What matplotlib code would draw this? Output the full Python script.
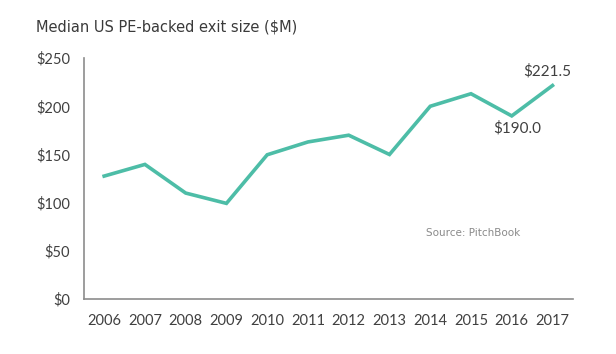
import matplotlib.pyplot as plt

# data
years = ['2006', '2007', '2008', '2009', '2010', '2011',
         '2012', '2013', '2014', '2015', '2016', '2017']
exit_size = [127.6, 139.7, 110.0, 99.3, 149.7, 163.0,
             170.0, 150.0, 200.0, 213.0, 190.0, 221.5]
y_ticks = [0, 50, 100, 150, 200, 250]

line_col = '#4dbda7'
txt_col = '#404040'
lbl_font = 'Lato'

fig = plt.figure(figsize=(6.16, 3.54), dpi=100)
ax = fig.add_axes([0.136, 0.155, 0.794, 0.681])

x = range(len(years))
ax.plot(x, exit_size, color=line_col, lw=2.6, solid_joinstyle='miter')

ax.set_xlim(-0.5, len(years) - 0.5)
ax.set_ylim(0, 250)
ax.set_xticks(list(x))
ax.set_xticklabels(years, family=lbl_font)
ax.set_yticks(y_ticks)
ax.set_yticklabels(['$' + str(v) for v in y_ticks], family=lbl_font)
ax.tick_params(length=0, labelsize=10.5, labelcolor=txt_col)
ax.tick_params(axis='x', pad=11)
ax.tick_params(axis='y', pad=10)
for s in ['top', 'right']:
    ax.spines[s].set_visible(False)
for s in ['left', 'bottom']:
    ax.spines[s].set_color('#8c8c8c')
    ax.spines[s].set_linewidth(1.2)

# value labels on last two points
ax.annotate('$%.1f' % exit_size[-1], (x[-1], exit_size[-1]), xytext=(-4, 5),
            textcoords='offset points', ha='center', va='bottom',
            fontsize=11, color=txt_col, family=lbl_font)
ax.annotate('$%.1f' % exit_size[-2], (x[-2], exit_size[-2]), xytext=(4, -4),
            textcoords='offset points', ha='center', va='top',
            fontsize=11, color=txt_col, family=lbl_font)

fig.text(0.058, 0.925, 'Median US PE-backed exit size ($M)', fontsize=10.5,
         color='#3a3a3a', ha='left', va='center')
fig.text(0.768, 0.342, 'Source: PitchBook', fontsize=7.5, color='#8a8a8a',
         ha='center', va='center')

fig.savefig('out.png', dpi=100, facecolor='white')
